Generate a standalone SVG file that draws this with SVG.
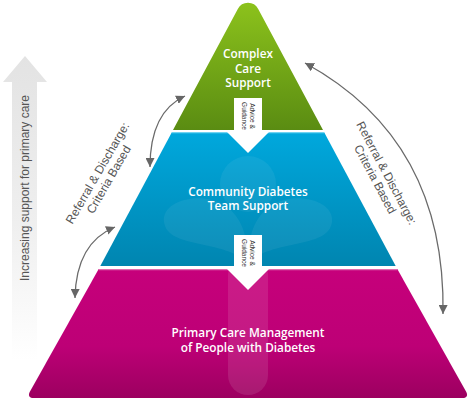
<svg xmlns="http://www.w3.org/2000/svg" width="468" height="405" viewBox="0 0 468 405">
<defs>
<linearGradient id="gGreen" x1="0" y1="0" x2="0" y2="1"><stop offset="0" stop-color="#8cc21c"/><stop offset="1" stop-color="#5a8c12"/></linearGradient>
<linearGradient id="gBlue" x1="0" y1="0" x2="0" y2="1"><stop offset="0" stop-color="#00a8dd"/><stop offset="1" stop-color="#0085b0"/></linearGradient>
<linearGradient id="gPink" x1="0" y1="0" x2="0" y2="1"><stop offset="0" stop-color="#c6007b"/><stop offset="0.6" stop-color="#bd0076"/><stop offset="1" stop-color="#9c0060"/></linearGradient>
<linearGradient id="gGray" gradientUnits="userSpaceOnUse" x1="0" y1="57" x2="0" y2="360"><stop offset="0" stop-color="#e3e3e3"/><stop offset="0.55" stop-color="#efefef"/><stop offset="1" stop-color="#ffffff"/></linearGradient>
<marker id="ah" viewBox="0 0 10 10" refX="10" refY="5" markerWidth="9" markerHeight="9" markerUnits="userSpaceOnUse" orient="auto-start-reverse"><path d="M0,0 L10,5 L0,10 Z" fill="#666"/></marker>
<style>
.lbl{font-family:"Open Sans","Noto Sans",sans-serif;font-weight:600;font-size:11.8px;fill:#fff;text-anchor:middle}
.side{font-family:"Liberation Sans",Arial,sans-serif;font-size:12px;fill:#555;text-anchor:middle}
.adv{font-family:"Liberation Sans",Arial,sans-serif;font-size:6.5px;fill:#333;text-anchor:middle}
.conn{fill:none;stroke:#6a6a6a;stroke-width:1.3;marker-start:url(#ah);marker-end:url(#ah)}
.ghost{fill:#fff;opacity:0.06}
</style>
</defs>

<g id="support-arrow">
<path d="M25,56 L47,82 L37,82 L37,362 L12,362 L12,82 L3,82 Z" fill="url(#gGray)"/>
<text class="side" transform="translate(28.5,188) rotate(-90)">Increasing support for primary care</text>
</g>

<g id="primary-care">
<path d="M98.7,269 L397.3,269 L466.3,392 Q469,398 462,398 L34,398 Q27,398 29.7,392 Z" fill="url(#gPink)"/>
<line x1="98.7" y1="269.6" x2="397.3" y2="269.6" stroke="#e06aae" stroke-width="1.2"/>
<rect x="228" y="255" width="40" height="140" rx="20" class="ghost" style="opacity:0.1"/>
<text class="lbl" x="248" y="337">Primary Care Management</text>
<text class="lbl" x="248" y="351.5">of People with Diabetes</text>
</g>

<g id="community-team">
<path d="M172,132 L324,132 L395.7,266 L100.3,266 Z" fill="url(#gBlue)"/>
<line x1="172" y1="132.6" x2="324" y2="132.6" stroke="#6fd3f2" stroke-width="1.2"/>
<circle cx="248" cy="184" r="28" class="ghost"/>
<path d="M248,264 C225,238 168,250 164,222 C161,200 202,190 226,206 C242,218 248,236 248,264 Z" class="ghost"/>
<path d="M248,264 C271,238 328,250 332,222 C335,200 294,190 270,206 C254,218 248,236 248,264 Z" class="ghost"/>
<text class="lbl" x="248" y="195.5">Community Diabetes</text>
<text class="lbl" x="248" y="210">Team Support</text>
</g>

<g id="complex-care">
<path d="M237.8,9.05 A11.5,11.5 0 0 1 258.2,9.05 L323,130 L173,130 Z" fill="url(#gGreen)"/>
<text class="lbl" x="248" y="58">Complex</text>
<text class="lbl" x="248" y="72.5">Care</text>
<text class="lbl" x="248" y="87">Support</text>
</g>

<g id="advice-1">
<path d="M234,98 L262,98 L262,131 L270,131 L248,153 L226,131 L234,131 Z" fill="#fff"/>
<g transform="translate(248,116) rotate(90)">
<text class="adv" x="0" y="-1.5">Advice &amp;</text>
<text class="adv" x="0" y="6.5">Guidance</text>
</g>
</g>

<g id="advice-2">
<path d="M234,235 L262,235 L262,268 L270,268 L248,290 L226,268 L234,268 Z" fill="#fff"/>
<g transform="translate(248,253) rotate(90)">
<text class="adv" x="0" y="-1.5">Advice &amp;</text>
<text class="adv" x="0" y="6.5">Guidance</text>
</g>
</g>

<g id="referral-left">
<text class="side" transform="translate(101,175) rotate(-60)"><tspan x="0" y="0">Referral &amp; Discharge:</tspan><tspan x="0" y="13">Criteria Based</tspan></text>
</g>

<g id="referral-right">
<text class="side" transform="translate(383,175) rotate(62)"><tspan x="0" y="0">Referral &amp; Discharge:</tspan><tspan x="0" y="13">Criteria Based</tspan></text>
</g>

<g id="connectors">
<path class="conn" d="M185,96 Q150,112 150,167"/>
<path class="conn" d="M115,227 Q76,243 75,298"/>
<path class="conn" d="M305,63 Q446,140 443,314"/>
</g>
</svg>
